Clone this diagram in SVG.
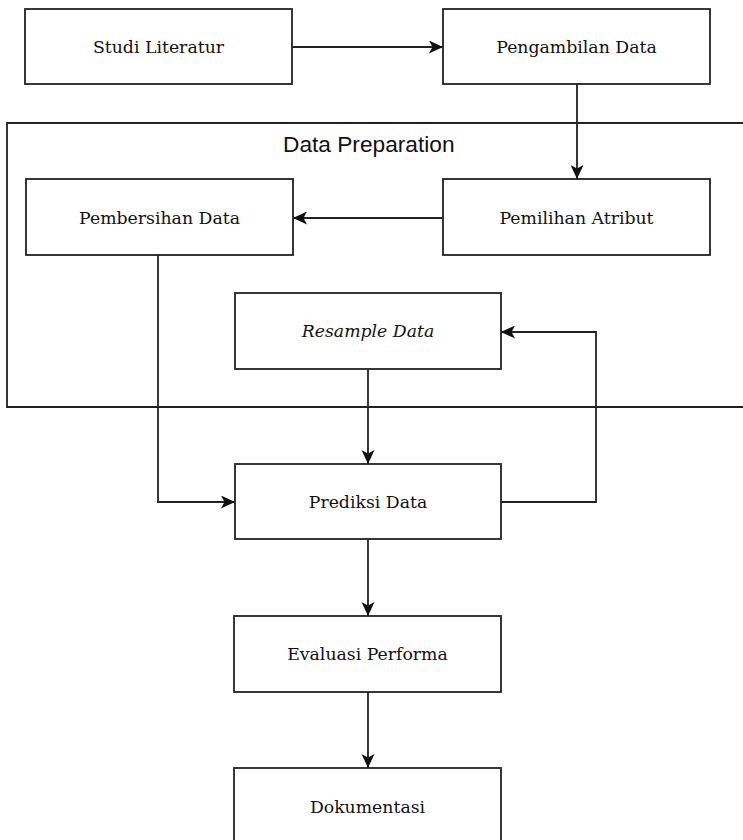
<svg xmlns="http://www.w3.org/2000/svg" width="743" height="840" viewBox="0 0 743 840">
<style>
.box{fill:#fff;stroke:#222;stroke-width:1.8}
.lbl{font-family:"DejaVu Serif","Liberation Serif",serif;font-size:17.3px;fill:#111;text-anchor:middle}
.it{font-style:italic}
.con{fill:none;stroke:#222;stroke-width:1.8}
.grp{fill:none;stroke:#222;stroke-width:1.8}
.gl{font-family:"Liberation Sans",Arial,sans-serif;font-size:22.7px;fill:#111}
</style>
<defs>
<marker id="ah" markerUnits="userSpaceOnUse" markerWidth="15" markerHeight="13" refX="14" refY="6.5" orient="auto">
<path d="M0,0 L14,6.5 L0,13 L3.5,6.5 z" fill="#111"/>
</marker>
</defs>
<g id="data-preparation">
<path class="grp" d="M743,123 H7 V407 H743"/>
<text class="gl" x="283" y="152">Data Preparation</text>
</g>
<g id="studi-literatur">
<rect class="box" x="25" y="9" width="267" height="75"/>
<text class="lbl" x="158.5" y="53">Studi Literatur</text>
</g>
<g id="pengambilan-data">
<rect class="box" x="443" y="9" width="267" height="75"/>
<text class="lbl" x="576.5" y="53">Pengambilan Data</text>
</g>
<g id="pembersihan-data">
<rect class="box" x="26" y="179" width="267" height="76"/>
<text class="lbl" x="159.5" y="224">Pembersihan Data</text>
</g>
<g id="pemilihan-atribut">
<rect class="box" x="443" y="179" width="267" height="76"/>
<text class="lbl" x="576.5" y="224">Pemilihan Atribut</text>
</g>
<g id="resample-data">
<rect class="box" x="235" y="293" width="266" height="76"/>
<text class="lbl it" x="368" y="337">Resample Data</text>
</g>
<g id="prediksi-data">
<rect class="box" x="235" y="464" width="266" height="75"/>
<text class="lbl" x="368" y="508">Prediksi Data</text>
</g>
<g id="evaluasi-performa">
<rect class="box" x="234" y="616" width="267" height="76"/>
<text class="lbl" x="367.5" y="660">Evaluasi Performa</text>
</g>
<g id="dokumentasi">
<rect class="box" x="234" y="768" width="267" height="80"/>
<text class="lbl" x="367.5" y="813">Dokumentasi</text>
</g>
<g id="connectors">
<path class="con" d="M292,47 H443" marker-end="url(#ah)"/>
<path class="con" d="M577,84 V179" marker-end="url(#ah)"/>
<path class="con" d="M443,218 H293" marker-end="url(#ah)"/>
<path class="con" d="M158,255 V502 H235" marker-end="url(#ah)"/>
<path class="con" d="M368,369 V464" marker-end="url(#ah)"/>
<path class="con" d="M501,502 H596 V332 H501" marker-end="url(#ah)"/>
<path class="con" d="M368,539 V616" marker-end="url(#ah)"/>
<path class="con" d="M368,692 V768" marker-end="url(#ah)"/>
</g>
</svg>
